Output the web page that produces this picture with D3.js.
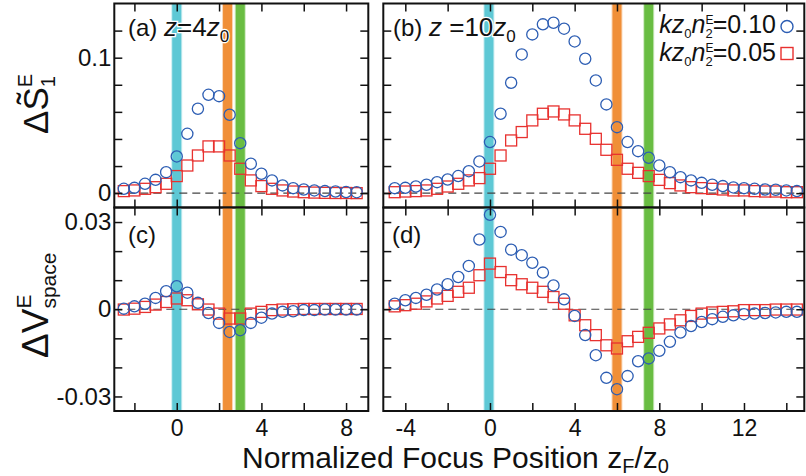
<!DOCTYPE html>
<meta charset="utf-8">
<style>body{margin:0;background:#fff}</style>

<!-- Load d3.js -->
<script src="https://d3js.org/d3.v7.min.js"></script>

<div id="my_dataviz"></div>

<script>

    // focus positions (z_F / z0)
    const xShort = [-2.5,-2,-1.5,-1,-0.5,0,0.5,1,1.5,2,2.5,3,3.5,4,4.5,5,5.5,6,6.5,7,7.5,8,8.5];
    const xLong = [-4.5,-4,-3.5,-3,-2.5,-2,-1.5,-1,-0.5,0,0.5,1,1.5,2,2.5,3,3.5,4,4.5,5,
                   5.5,6,6.5,7,7.5,8,8.5,9,9.5,10,10.5,11,11.5,12,12.5,13,13.5,14,14.5];

    // (a) z = 4 z0, delta S1
    const aHigh = [0.0032,0.0039,0.0069,0.0098,0.0155,0.0271,0.0438,0.0623,0.0726,0.0716,0.0579,0.0369,
                   0.0217,0.0143,0.0094,0.0057,0.0037,0.0027,0.0020,0.0015,0.0012,0.0008,0.0007];
    const aLow  = [0.0015,0.0020,0.0032,0.0044,0.0069,0.0126,0.0204,0.0278,0.0345,0.0345,0.0278,0.0180,
                   0.0094,0.0052,0.0032,0.0020,0.0012,0.0007,0.0004,0.0002,0.0001,0.0001,0.0000];

    // (b) z = 10 z0, delta S1
    const bHigh = [0.0037,0.0039,0.0049,0.0062,0.0081,0.0101,0.0126,0.0162,0.0234,0.0377,
                   0.0586,0.0815,0.1024,0.1172,0.1246,0.1258,0.1214,0.1120,0.0992,0.0832,
                   0.0655,0.0487,0.0377,0.0310,0.0261,0.0204,0.0155,0.0118,0.0094,0.0076,
                   0.0062,0.0052,0.0042,0.0037,0.0032,0.0027,0.0025,0.0020,0.0015];
    const bLow  = [0.0007,0.0012,0.0015,0.0020,0.0032,0.0049,0.0069,0.0094,0.0111,0.0180,
                   0.0278,0.0389,0.0451,0.0537,0.0586,0.0603,0.0581,0.0537,0.0475,0.0401,
                   0.0320,0.0246,0.0180,0.0150,0.0126,0.0098,0.0074,0.0057,0.0044,0.0037,
                   0.0032,0.0027,0.0020,0.0020,0.0015,0.0012,0.0012,0.0007,0.0007];

    // (c) z = 4 z0, delta V_space
    const cHigh = [0.0002,0.0010,0.0019,0.0039,0.0062,0.0079,0.0057,0.0022,-0.0013,-0.0047,-0.0078,-0.0072,
                   -0.0047,-0.0029,-0.0015,-0.0009,-0.0007,-0.0003,-0.0003,-0.0001,-0.0001,-0.0001,-0.0001];
    const cLow  = [-0.0001,0.0002,0.0008,0.0016,0.0025,0.0037,0.0031,0.0017,-0.0001,-0.0015,-0.0032,-0.0032,
                   -0.0015,-0.0009,-0.0003,-0.0001,0.0000,0.0001,0.0001,0.0001,0.0001,0.0001,0.0001];

    // (d) z = 10 z0, delta V_space
    const dHigh = [0.0019,0.0031,0.0039,0.0050,0.0068,0.0086,0.0111,0.0149,0.0240,0.0325,
                   0.0266,0.0205,0.0186,0.0160,0.0126,0.0082,0.0034,-0.0023,-0.0089,-0.0158,
                   -0.0236,-0.0275,-0.0230,-0.0179,-0.0169,-0.0143,-0.0112,-0.0080,-0.0058,-0.0044,
                   -0.0034,-0.0026,-0.0021,-0.0017,-0.0015,-0.0013,-0.0011,-0.0009,-0.0009];
    const dLow  = [0.0010,0.0014,0.0019,0.0027,0.0037,0.0046,0.0060,0.0074,0.0117,0.0157,
                   0.0128,0.0100,0.0086,0.0074,0.0060,0.0042,0.0019,-0.0021,-0.0055,-0.0089,
                   -0.0124,-0.0135,-0.0110,-0.0095,-0.0081,-0.0066,-0.0052,-0.0038,-0.0023,-0.0015,
                   -0.0011,-0.0009,-0.0007,-0.0003,-0.0003,-0.0003,-0.0001,-0.0001,-0.0001];

    // marker bands (focus positions of interest)
    const bandsShort = [0, 2.4, 3.0];
    const bandsLong = [-0.05, 6, 7.5];
    const bandColors = ["#5ec8d5", "#f08f38", "#69bd42"];

    // ticks
    const xTicksShort = [-2,0,2,4,6,8];
    const xLabelsShort = [0,4,8];
    const xTicksLong = [-4,-2,0,2,4,6,8,10,12,14];
    const xLabelsLong = [-4,0,4,8,12];
    const yTicksS = [0,0.02,0.04,0.06,0.08,0.1,0.12];
    const yLabelsS = [0,0.1];
    const yTicksV = [-0.03,-0.02,-0.01,0,0.01,0.02,0.03];
    const yLabelsV = [-0.03,0,0.03];

    const blue = "#2c5db3", red = "#e8312f";
    const font = "'Liberation Sans', Arial, sans-serif";

    const svg = d3.select("#my_dataviz")
      .append("svg")
        .attr("width", 806)
        .attr("height", 476)
        .style("font-family", font);

    // scales
    const xA = d3.scaleLinear().domain([-2.95, 9.05]).range([114.3, 368.3]);
    const xB = d3.scaleLinear().domain([-5.04, 14.85]).range([383.3, 804.3]);
    const yS = d3.scaleLinear().domain([-0.0106, 0.14]).range([207.5, 3.5]);
    const yV = d3.scaleLinear().domain([-0.035, 0.035]).range([411, 207.5]);

    const panels = [
      {x: xA, y: yS, xs: xShort, hi: aHigh, lo: aLow, bands: bandsShort, xt: xTicksShort, xl: null, yt: yTicksS, yl: yLabelsS},
      {x: xB, y: yS, xs: xLong, hi: bHigh, lo: bLow, bands: bandsLong, xt: xTicksLong, xl: null, yt: yTicksS, yl: null},
      {x: xA, y: yV, xs: xShort, hi: cHigh, lo: cLow, bands: bandsShort, xt: xTicksShort, xl: xLabelsShort, yt: yTicksV, yl: yLabelsV},
      {x: xB, y: yV, xs: xLong, hi: dHigh, lo: dLow, bands: bandsLong, xt: xTicksLong, xl: xLabelsLong, yt: yTicksV, yl: null}
    ];

    panels.forEach(p => {
      const [x0, x1] = p.x.range();
      const [y1, y0] = p.y.range();
      const g = svg.append("g");

      // colored bands
      p.bands.forEach((b, i) => {
        g.append("rect")
          .attr("x", p.x(b) - 5.5).attr("y", y0)
          .attr("width", 11).attr("height", y1 - y0)
          .attr("fill", bandColors[i]).attr("opacity", 0.35);
        g.append("rect")
          .attr("x", p.x(b) - 4.5).attr("y", y0)
          .attr("width", 9).attr("height", y1 - y0)
          .attr("fill", bandColors[i]);
      });

      // zero line
      g.append("line")
        .attr("x1", x0).attr("x2", x1)
        .attr("y1", p.y(0)).attr("y2", p.y(0))
        .attr("stroke", "#444").attr("stroke-width", 1.2)
        .attr("stroke-dasharray", "8,5");

      // squares
      g.selectAll("rect.sq")
        .data(p.xs.map((v, i) => [v, p.lo[i]]))
        .join("rect")
          .attr("class", "sq")
          .attr("x", d => p.x(d[0]) - 5.5)
          .attr("y", d => p.y(d[1]) - 5.5)
          .attr("width", 11).attr("height", 11)
          .attr("fill", "none").attr("stroke", red).attr("stroke-width", 1.3);

      // circles
      g.selectAll("circle")
        .data(p.xs.map((v, i) => [v, p.hi[i]]))
        .join("circle")
          .attr("cx", d => p.x(d[0]))
          .attr("cy", d => p.y(d[1]))
          .attr("r", 5.6)
          .attr("fill", "none").attr("stroke", blue).attr("stroke-width", 1.3);

      // axes (inward ticks)
      const fmtX = d => (p.xl && p.xl.includes(d)) ? String(d) : "";
      const fmtY = d => (p.yl && p.yl.includes(d)) ? String(d) : "";
      const axB = g.append("g").attr("transform", `translate(0,${y1})`)
        .call(d3.axisBottom(p.x).tickValues(p.xt).tickSize(-8).tickSizeOuter(0).tickPadding(9).tickFormat(fmtX));
      const axT = g.append("g").attr("transform", `translate(0,${y0})`)
        .call(d3.axisTop(p.x).tickValues(p.xt).tickSize(-8).tickSizeOuter(0).tickFormat(""));
      const axL = g.append("g").attr("transform", `translate(${x0},0)`)
        .call(d3.axisLeft(p.y).tickValues(p.yt).tickSize(-8).tickSizeOuter(0).tickPadding(3).tickFormat(fmtY));
      const axR = g.append("g").attr("transform", `translate(${x1},0)`)
        .call(d3.axisRight(p.y).tickValues(p.yt).tickSize(-8).tickSizeOuter(0).tickFormat(""));
      [axB, axT, axL, axR].forEach(a => {
        a.select(".domain").remove();
        a.selectAll("line").attr("stroke", "#111").attr("stroke-width", 1.5);
        a.selectAll("text").attr("font-size", 24).attr("font-family", font).attr("fill", "#111");
      });
      axB.selectAll("text").attr("font-size", 23);

      // frame
      g.append("rect")
        .attr("x", x0).attr("y", y0)
        .attr("width", x1 - x0).attr("height", y1 - y0)
        .attr("fill", "none").attr("stroke", "#111").attr("stroke-width", 2);
    });

    // panel labels
    function panelLabel(x, y, tag, num) {
      const t = svg.append("text").attr("x", x).attr("y", y).attr("font-size", 24).attr("fill", "#111")
        .attr("stroke", "#fff").attr("stroke-width", 2.5).attr("paint-order", "stroke");
      t.append("tspan").text(tag + " ");
      if (num !== null) {
        t.append("tspan").attr("font-style", "italic").attr("font-size", 26).text("z");
        t.append("tspan").attr("font-size", 26).text(num);
        t.append("tspan").attr("font-style", "italic").attr("font-size", 26).text("z");
        t.append("tspan").attr("font-size", 17).attr("dy", 6).text("0");
      }
    }
    panelLabel(128, 36, "(a)", "=4");
    panelLabel(393, 36, "(b)", " =10");
    panelLabel(128, 243, "(c)", null);
    panelLabel(392, 243, "(d)", null);

    // legend
    function legendLine(y, val) {
      const t = svg.append("text").attr("x", 776).attr("y", y)
        .attr("text-anchor", "end").attr("font-size", 25).attr("fill", "#111");
      t.append("tspan").attr("font-style", "italic").text("kz");
      t.append("tspan").attr("font-size", 13).attr("dy", 5).text("0");
      t.append("tspan").attr("font-style", "italic").attr("dy", -5).text("n");
      t.append("tspan").attr("font-size", 12).attr("dy", -9).text("E");
      t.append("tspan").attr("font-size", 13).attr("dx", -8).attr("dy", 14).text("2");
      t.append("tspan").attr("dy", -5).text("=" + val);
    }
    legendLine(33, "0.10");
    legendLine(61, "0.05");
    svg.append("circle").attr("cx", 787).attr("cy", 26.5).attr("r", 6)
      .attr("fill", "none").attr("stroke", blue).attr("stroke-width", 1.4);
    svg.append("rect").attr("x", 781).attr("y", 47.5).attr("width", 12).attr("height", 12)
      .attr("fill", "none").attr("stroke", red).attr("stroke-width", 1.4);

    // x axis title
    const xt = svg.append("text").attr("x", 242).attr("y", 468).attr("font-size", 30).attr("fill", "#111");
    xt.append("tspan").text("Normalized Focus Position ");
    xt.append("tspan").text("z");
    xt.append("tspan").attr("font-size", 20).attr("dy", 5).text("F");
    xt.append("tspan").attr("dy", -5).text("/z");
    xt.append("tspan").attr("font-size", 20).attr("dy", 5).text("0");

    // y axis titles
    const ys = svg.append("text").attr("transform", "translate(48,134) rotate(-90)")
      .attr("font-size", 35).attr("fill", "#111");
    ys.append("tspan").text("\u0394S\u0303");
    ys.append("tspan").attr("font-size", 20).attr("dy", 7).text("1");
    ys.append("tspan").attr("font-size", 20).attr("dx", -11).attr("dy", -23).text("E");

    const yv = svg.append("text").attr("transform", "translate(48,358) rotate(-90)")
      .attr("font-size", 37).attr("fill", "#111");
    yv.append("tspan").text("\u0394V");
    yv.append("tspan").attr("font-size", 21).attr("dy", -17).text("E");
    yv.append("tspan").attr("font-size", 21).attr("dx", -14).attr("dy", 25).text("space");

</script>
